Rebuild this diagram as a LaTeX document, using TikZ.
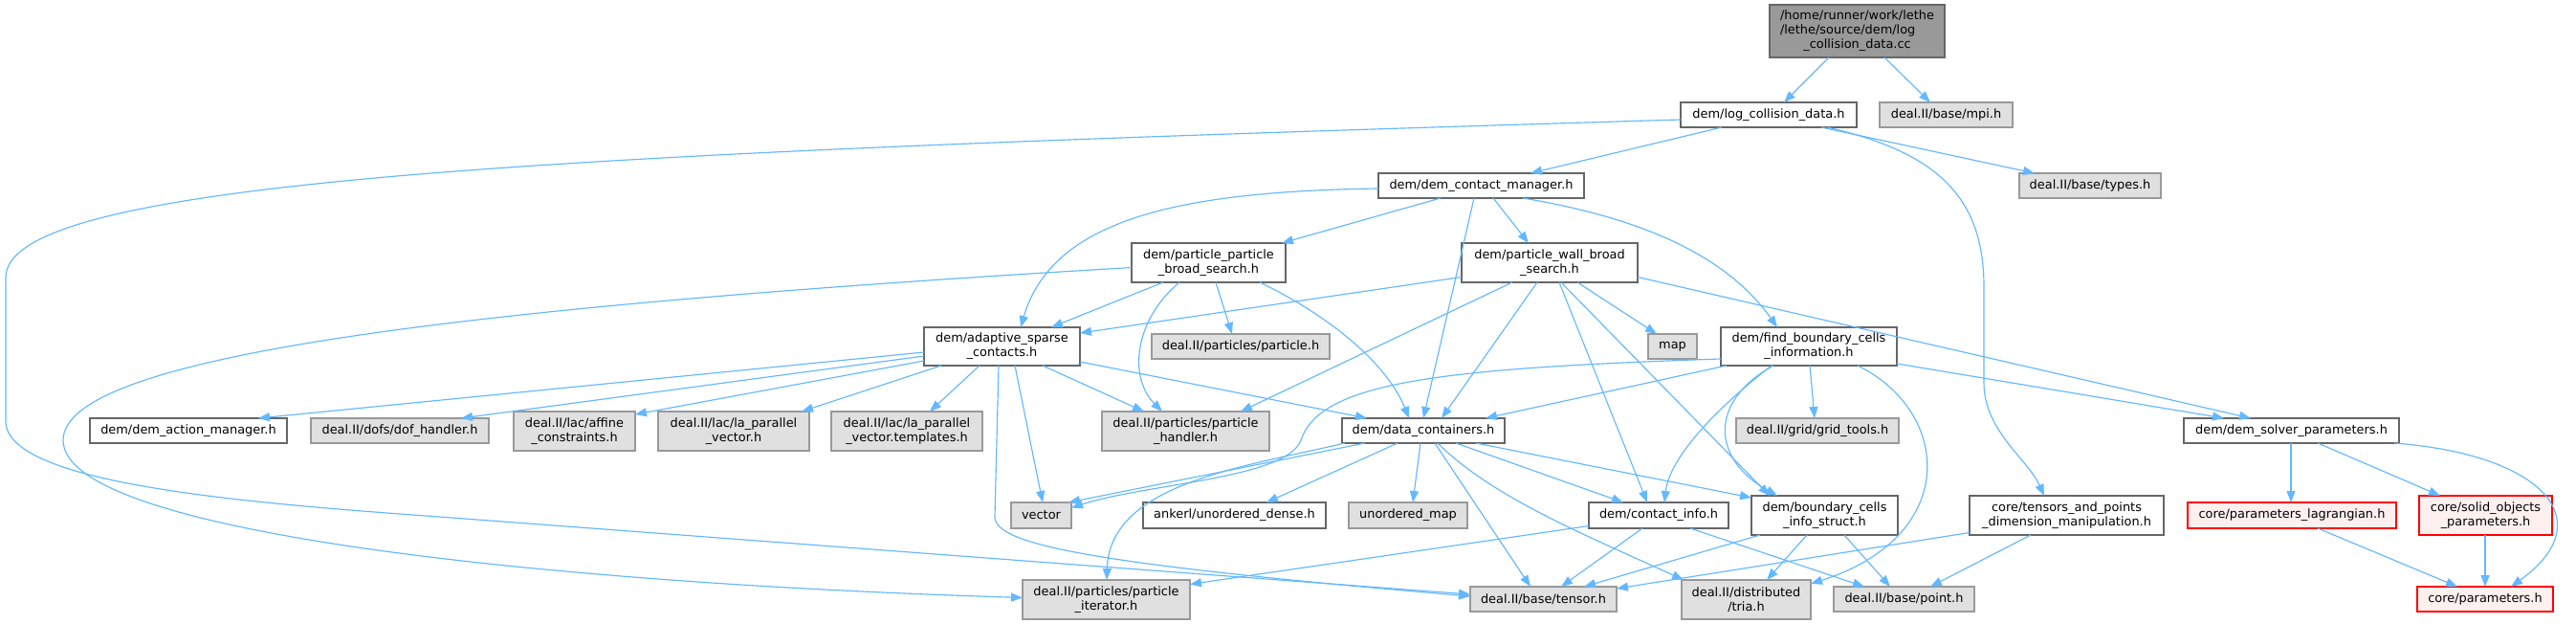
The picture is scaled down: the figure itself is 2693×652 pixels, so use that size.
\documentclass[tikz,border=0pt]{standalone}
\usepackage{fontspec}
\setmainfont{DejaVu Sans}
\usetikzlibrary{arrows.meta}
\definecolor{edgeblue}{HTML}{63B8FF}
\definecolor{wborder}{HTML}{666666}
\definecolor{gborder}{HTML}{999999}
\definecolor{gfill}{HTML}{E0E0E0}
\definecolor{rootfill}{HTML}{999999}
\definecolor{rfill}{HTML}{FFF0F0}
\definecolor{rborder}{HTML}{FF0000}
\tikzset{
  box/.style={rectangle, inner sep=0pt, outer sep=0pt, align=center, line width=1.1pt,
    font=\fontsize{12.9}{15}\selectfont},
  wbox/.style={box, draw=wborder, fill=white},
  gbox/.style={box, draw=gborder, fill=gfill},
  rbox/.style={box, draw=rborder, fill=rfill},
  rootbox/.style={box, draw=wborder, fill=rootfill},
  dep/.style={draw=edgeblue, line width=1.15pt, -{Triangle[length=12pt,width=9pt]}}
}
\newcommand{\mynode}[7]{\node[#1, minimum width={#4-#3}, minimum height={#6-#5}] (#2) at ({(#3+#4)/2},{(#5+#6)/2}) {#7};}
\begin{document}
\begin{tikzpicture}[x=1pt,y=-1pt]
\useasboundingbox (0,0) rectangle (2693,652);
\fill[white] (0,0) rectangle (2693,652);
% nodes
\mynode{rootbox}{root}{1850}{2033}{5}{60}{/home/runner/work/lethe\\\setbox0\hbox{/home/runner/work/lethe}\hbox to\wd0{/lethe/source/dem/log\hfil}\\\_collision\_data.cc}
\mynode{wbox}{log}{1757}{1941}{107}{133}{dem/log\_collision\_data.h}
\mynode{gbox}{mpi}{1965}{2104}{107}{133}{deal.II/base/mpi.h}
\mynode{wbox}{dcm}{1441}{1656}{181}{207}{dem/dem\_contact\_manager.h}
\mynode{gbox}{types}{2111}{2259}{181}{207}{deal.II/base/types.h}
\mynode{wbox}{ppbs}{1183}{1344}{254}{295}{dem/particle\_particle\\\_broad\_search.h}
\mynode{wbox}{pwbs}{1528}{1712}{254}{295}{dem/particle\_wall\_broad\\\_search.h}
\mynode{wbox}{asc}{966}{1129}{342}{382}{dem/adaptive\_sparse\\\_contacts.h}
\mynode{gbox}{particle}{1204}{1390}{349}{375}{deal.II/particles/particle.h}
\mynode{gbox}{map}{1723}{1774}{349}{375}{map}
\mynode{wbox}{fbci}{1799}{1983}{342}{382}{dem/find\_boundary\_cells\\\_information.h}
\mynode{wbox}{dam}{94}{300}{437}{463}{dem/dem\_action\_manager.h}
\mynode{gbox}{dof}{325}{511}{437}{463}{deal.II/dofs/dof\_handler.h}
\mynode{gbox}{affine}{537}{664}{430}{471}{deal.II/lac/affine\\\_constraints.h}
\mynode{gbox}{lpv}{688}{846}{430}{471}{deal.II/lac/la\_parallel\\\_vector.h}
\mynode{gbox}{lpvt}{869}{1027}{430}{471}{deal.II/lac/la\_parallel\\\_vector.templates.h}
\mynode{gbox}{ph}{1152}{1327}{430}{471}{deal.II/particles/particle\\\_handler.h}
\mynode{wbox}{dc}{1403}{1573}{437}{463}{dem/data\_containers.h}
\mynode{gbox}{grid}{1815}{1985}{437}{463}{deal.II/grid/grid\_tools.h}
\mynode{wbox}{dsp}{2283}{2508}{437}{463}{dem/dem\_solver\_parameters.h}
\mynode{gbox}{vector}{1057}{1120}{525}{552}{vector}
\mynode{wbox}{ankerl}{1195}{1386}{525}{552}{ankerl/unordered\_dense.h}
\mynode{gbox}{umap}{1410}{1534}{525}{552}{unordered\_map}
\mynode{wbox}{ci}{1661}{1807}{525}{552}{dem/contact\_info.h}
\mynode{wbox}{bcis}{1831}{1984}{518}{559}{dem/boundary\_cells\\\_info\_struct.h}
\mynode{wbox}{tpdm}{2059}{2262}{518}{559}{core/tensors\_and\_points\\\_dimension\_manipulation.h}
\mynode{rbox}{plag}{2287}{2505}{525}{552}{core/parameters\_lagrangian.h}
\mynode{rbox}{sop}{2529}{2668}{518}{559}{core/solid\_objects\\\_parameters.h}
\mynode{gbox}{pit}{1069}{1244}{606}{647}{deal.II/particles/particle\\\_iterator.h}
\mynode{gbox}{tensor}{1537}{1690}{613}{639}{deal.II/base/tensor.h}
\mynode{gbox}{tria}{1758}{1893}{606}{647}{deal.II/distributed\\/tria.h}
\mynode{gbox}{point}{1917}{2064}{613}{639}{deal.II/base/point.h}
\mynode{rbox}{params}{2527}{2669}{613}{639}{core/parameters.h}
% edges
\draw[dep] ([xshift=62pt]root.south west) -- ([xshift=108pt]log.north west);
\draw[dep] ([xshift=120pt]root.south west) -- ([xshift=53pt]mpi.north west);
\draw[dep] ([xshift=43pt]log.south west) -- ([xshift=159pt]dcm.north west);
\draw[dep] ([xshift=147pt]log.south west) -- ([xshift=16pt]types.north west);
\draw[dep] ([xshift=153pt]log.south west) .. controls (2030,160) and (2074,210) .. (2074,300) -- (2074,400) .. controls (2074,450) and (2120,480) .. ([xshift=78pt]tpdm.north west);
\draw[dep] ([yshift=-5pt]log.west) .. controls (600,160) and (6,185) .. (6,290) -- (6,440) .. controls (6,505) and (250,525) .. (459,540) -- ([yshift=5pt]tensor.west);
\draw[dep] ([xshift=65pt]dcm.south west) -- ([xshift=157pt]ppbs.north west);
\draw[dep] ([xshift=120pt]dcm.south west) -- ([xshift=70pt]pwbs.north west);
\draw[dep] ([yshift=-3pt]dcm.west) .. controls (1230,200) and (1100,230) .. ([xshift=101pt]asc.north west);
\draw[dep] ([xshift=100pt]dcm.south west) -- ([xshift=85pt]dc.north west);
\draw[dep] ([xshift=151pt]dcm.south west) .. controls (1700,225) and (1800,260) .. ([xshift=59pt]fbci.north west);
\draw[dep] ([xshift=33pt]ppbs.south west) -- ([xshift=133pt]asc.north west);
\draw[dep] ([xshift=88pt]ppbs.south west) -- ([xshift=84pt]particle.north west);
\draw[dep] ([xshift=50pt]ppbs.south west) .. controls (1185,335) and (1180,395) .. ([xshift=63pt]ph.north west);
\draw[dep] ([xshift=134pt]ppbs.south west) .. controls (1390,330) and (1450,380) .. ([xshift=70pt]dc.north west);
\draw[dep] ([yshift=-5pt]ppbs.west) .. controls (500,320) and (66,370) .. (66,460) .. controls (66,560) and (600,610) .. ([yshift=2pt]pit.west);
\draw[dep] ([yshift=-15pt]pwbs.west) -- ([yshift=14pt]asc.east);
\draw[dep] ([xshift=53pt]pwbs.south west) -- ([xshift=145pt]ph.north west);
\draw[dep] ([xshift=79pt]pwbs.south west) -- ([xshift=104pt]dc.north west);
\draw[dep] ([xshift=102pt]pwbs.south west) -- ([xshift=61pt]ci.north west);
\draw[dep] ([xshift=104pt]pwbs.south west) -- ([xshift=19pt]bcis.north west);
\draw[dep] ([xshift=121pt]pwbs.south west) -- ([xshift=9pt]map.north west);
\draw[dep] ([yshift=-15pt]pwbs.east) -- ([xshift=70pt]dsp.north west);
\draw[dep] ([yshift=-6pt]asc.west) -- ([xshift=176pt]dam.north west);
\draw[dep] ([yshift=-10pt]asc.west) -- ([xshift=157pt]dof.north west);
\draw[dep] ([yshift=-15pt]asc.west) -- ([yshift=-3pt]affine.north east);
\draw[dep] ([xshift=18pt]asc.south west) -- ([xshift=150pt]lpv.north west);
\draw[dep] ([xshift=58pt]asc.south west) -- ([xshift=103pt]lpvt.north west);
\draw[dep] ([xshift=124pt]asc.south west) -- ([xshift=44pt]ph.north west);
\draw[dep] ([yshift=4pt]asc.south east) -- ([xshift=26pt]dc.north west);
\draw[dep] ([xshift=95pt]asc.south west) -- ([xshift=33pt]vector.north west);
\draw[dep] ([xshift=78pt]asc.south west) -- (1040,540) .. controls (1040,570) and (1150,590) .. ([yshift=3pt]tensor.west);
\draw[dep] ([xshift=6pt]fbci.south west) -- ([xshift=150pt]dc.north west);
\draw[dep] ([yshift=-13pt]fbci.west) .. controls (1500,385) and (1380,400) .. (1360,460) .. controls (1345,500) and (1200,505) .. ([yshift=8pt]vector.east);
\draw[dep] ([xshift=53pt]fbci.south west) .. controls (1790,430) and (1745,480) .. ([xshift=79pt]ci.north west);
\draw[dep] ([xshift=55pt]fbci.south west) .. controls (1785,420) and (1790,480) .. ([xshift=27pt]bcis.north west);
\draw[dep] ([xshift=93pt]fbci.south west) -- ([xshift=82pt]grid.north west);
\draw[dep] ([xshift=143pt]fbci.south west) .. controls (2040,430) and (2050,560) .. ([yshift=-4pt]tria.north east);
\draw[dep] ([yshift=-18pt]fbci.east) -- ([xshift=42pt]dsp.north west);
\draw[dep] ([xshift=24pt]dc.south west) -- ([xshift=60pt]vector.north west);
\draw[dep] ([xshift=3pt]dc.south west) .. controls (1300,488) and (1160,505) .. ([xshift=88pt]pit.north west);
\draw[dep] ([xshift=58pt]dc.south west) -- ([xshift=129pt]ankerl.north west);
\draw[dep] ([xshift=82pt]dc.south west) -- ([xshift=67pt]umap.north west);
\draw[dep] ([xshift=97pt]dc.south west) -- ([xshift=63pt]tensor.north west);
\draw[dep] ([xshift=100pt]dc.south west) .. controls (1560,520) and (1660,560) .. ([xshift=2pt]tria.north west);
\draw[dep] ([xshift=119pt]dc.south west) -- ([xshift=36pt]ci.north west);
\draw[dep] ([xshift=140pt]dc.south west) -- ([yshift=-2pt]bcis.north west);
\draw[dep] ([xshift=112pt]dsp.south west) -- ([xshift=108pt]plag.north west);
\draw[dep] ([xshift=140pt]dsp.south west) -- ([xshift=22pt]sop.north west);
\draw[dep] ([xshift=220pt]dsp.south west) .. controls (2660,475) and (2720,545) .. ([xshift=98pt]params.north west);
\draw[dep] ([yshift=-11pt]ci.west) -- ([yshift=16pt]pit.east);
\draw[dep] ([xshift=56pt]ci.south west) -- ([xshift=95pt]tensor.north west);
\draw[dep] ([xshift=106pt]ci.south west) -- ([xshift=32pt]point.north west);
\draw[dep] ([xshift=9pt]bcis.south west) -- ([xshift=119pt]tensor.north west);
\draw[dep] ([xshift=58pt]bcis.south west) -- ([xshift=89pt]tria.north west);
\draw[dep] ([xshift=97pt]bcis.south west) -- ([xshift=59pt]point.north west);
\draw[dep] ([yshift=-18pt]tpdm.west) -- ([yshift=11pt]tensor.east);
\draw[dep] ([xshift=64pt]tpdm.south west) -- ([xshift=101pt]point.north west);
\draw[dep] ([xshift=136pt]plag.south west) -- ([xshift=42pt]params.north west);
\draw[dep] ([xshift=69pt]sop.south west) -- ([xshift=71pt]params.north west);
\end{tikzpicture}
\end{document}
